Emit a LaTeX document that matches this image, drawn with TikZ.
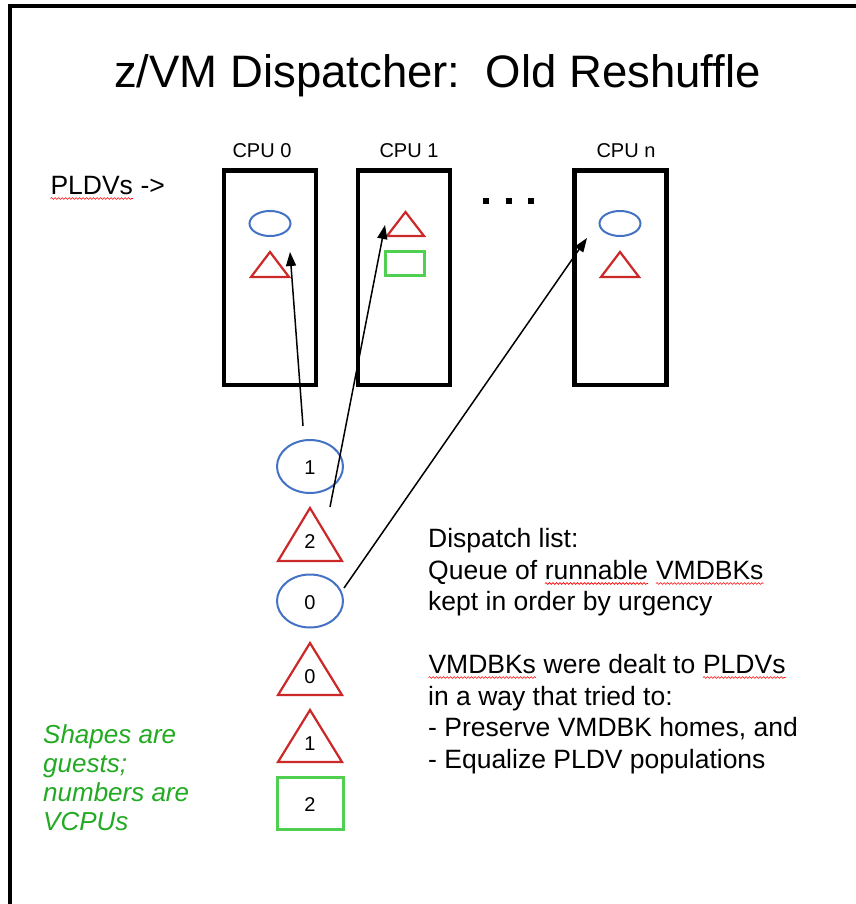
\documentclass[tikz,border=0pt]{standalone}
\usepackage{fontspec}
\setmainfont{Liberation Sans}
\usetikzlibrary{arrows.meta,shapes.geometric,decorations.pathmorphing}
\definecolor{eblue}{RGB}{68,114,196}
\definecolor{tred}{RGB}{204,40,40}
\definecolor{rgreen}{RGB}{80,208,80}
\definecolor{tgreen}{RGB}{34,170,34}
\newcommand\sqw[1]{\tikz[baseline=(w.base)]{\node[anchor=base, inner sep=0pt, outer sep=0pt] (w) at (0,0) {#1};
  \draw[red, line width=0.6pt, decorate, decoration={snake, amplitude=0.9pt, segment length=3.5pt}] ([yshift=-4.5pt]w.base west) -- ([yshift=-4.5pt]w.base east);}}
\tikzset{
  frame/.style={line width=4.5pt, line join=miter},
  cpubox/.style={draw, line width=4.5pt, rectangle, inner sep=0pt, minimum width=92pt, minimum height=214.5pt},
  cpulab/.style={anchor=base, inner sep=0pt, font=\fontsize{20}{24}\selectfont},
  txt/.style={anchor=base west, inner sep=0pt, font=\fontsize{26.5}{30}\selectfont},
  gtxt/.style={anchor=base west, inner sep=0pt, text=tgreen, font=\fontsize{26}{29}\selectfont\itshape},
  sell/.style={draw=eblue, line width=2pt, ellipse, inner sep=0pt, minimum width=41pt, minimum height=25pt},
  qell/.style={draw=eblue, line width=2pt, ellipse, inner sep=0pt, minimum width=66pt, minimum height=53pt},
  tri/.style={draw=tred, line width=2.2pt, line join=miter},
  grect/.style={draw=rgreen, line width=3pt, rectangle, inner sep=0pt},
  num/.style={anchor=base, inner sep=0pt, font=\fontsize{20}{24}\selectfont},
  dotsq/.style={fill=black, rectangle, inner sep=0pt, minimum width=6pt, minimum height=5.5pt},
  arr/.style={line width=1.5pt, -{Triangle[length=14pt,width=10pt]}}
}
\begin{document}
\begin{tikzpicture}[x=1pt,y=-1pt]
\useasboundingbox[fill=white] (0,0) rectangle (855,904);
% frame
\draw[frame] (10,910) -- (10,6) -- (860,6);
% title
\node[anchor=base, inner sep=0pt, font=\fontsize{45.5}{50}\selectfont] (title) at (437.5,88) {z/VM Dispatcher:\ \ Old Reshuffle};
% PLDVs
\node[txt] (pldv) at (50,194) {\sqw{PLDVs} ->};
% CPU boxes
\node[cpubox] (cpu0) at (270,277.75) {};
\node[cpubox] (cpu1) at (404,277.75) {};
\node[cpubox] (cpun) at (620.5,277.75) {};
\node[cpulab] (l0) at (262,158) {CPU 0};
\node[cpulab] (l1) at (409,158) {CPU 1};
\node[cpulab] (ln) at (626,158) {CPU n};
% dots
\node[dotsq] (dt1) at (486,200.75) {};
\node[dotsq] (dt2) at (508.5,200.75) {};
\node[dotsq] (dt3) at (531,200.75) {};
% shapes inside CPUs
\node[sell] (c0e) at (270,223.5) {};
\draw[tri] (270,252) -- (289,277) -- (251,277) -- cycle;
\draw[tri] (405.5,212) -- (424,236) -- (387,236) -- cycle;
\node[grect, minimum width=39pt, minimum height=24pt] (c1r) at (405,263.5) {};
\node[sell] (cne) at (620,223.5) {};
\draw[tri] (620,252) -- (639,277) -- (601,277) -- cycle;
% queue
\node[qell] (q1) at (310,466.5) {};
\node[num] (n1) at (310,474) {1};
\draw[tri] (310,508) -- (342,561) -- (278,561) -- cycle;
\node[num] (n2) at (310,548) {2};
\node[qell] (q3) at (310,601) {};
\node[num] (n3) at (310,609) {0};
\draw[tri] (310,643) -- (342,695) -- (278,695) -- cycle;
\node[num] (n4) at (310,683) {0};
\draw[tri] (310,710) -- (342,762) -- (278,762) -- cycle;
\node[num] (n5) at (310,750) {1};
\node[grect, minimum width=66pt, minimum height=52pt] (q6) at (310.5,803.5) {};
\node[num] (n6) at (310,811) {2};
% arrows
\coordinate (a1s) at (303,426);
\coordinate (a1e) at (290,252);
\coordinate (a2s) at (330,507);
\coordinate (a2e) at (385,225);
\coordinate (a3s) at (344,588);
\coordinate (a3e) at (587,238);
\draw[arr] (a1s) -- (a1e);
\draw[arr] (a2s) -- (a2e);
\draw[arr] (a3s) -- (a3e);
% right-hand text
\node[txt] (d1) at (428,547) {Dispatch list:};
\node[txt] (d2) at (428,579) {Queue of \sqw{runnable} \sqw{VMDBKs}};
\node[txt] (d3) at (428,610) {kept in order by urgency};
\node[txt] (d4) at (428,673) {\sqw{VMDBKs} were dealt to \sqw{PLDVs}};
\node[txt] (d5) at (428,705) {in a way that tried to:};
\node[txt] (d6) at (428,736) {- Preserve VMDBK homes, and};
\node[txt] (d7) at (428,768) {- Equalize PLDV populations};
% green note
\node[gtxt] (g1) at (43,743) {Shapes are};
\node[gtxt] (g2) at (43,772) {guests;};
\node[gtxt] (g3) at (43,801) {numbers are};
\node[gtxt] (g4) at (43,830) {VCPUs};
\end{tikzpicture}
\end{document}
